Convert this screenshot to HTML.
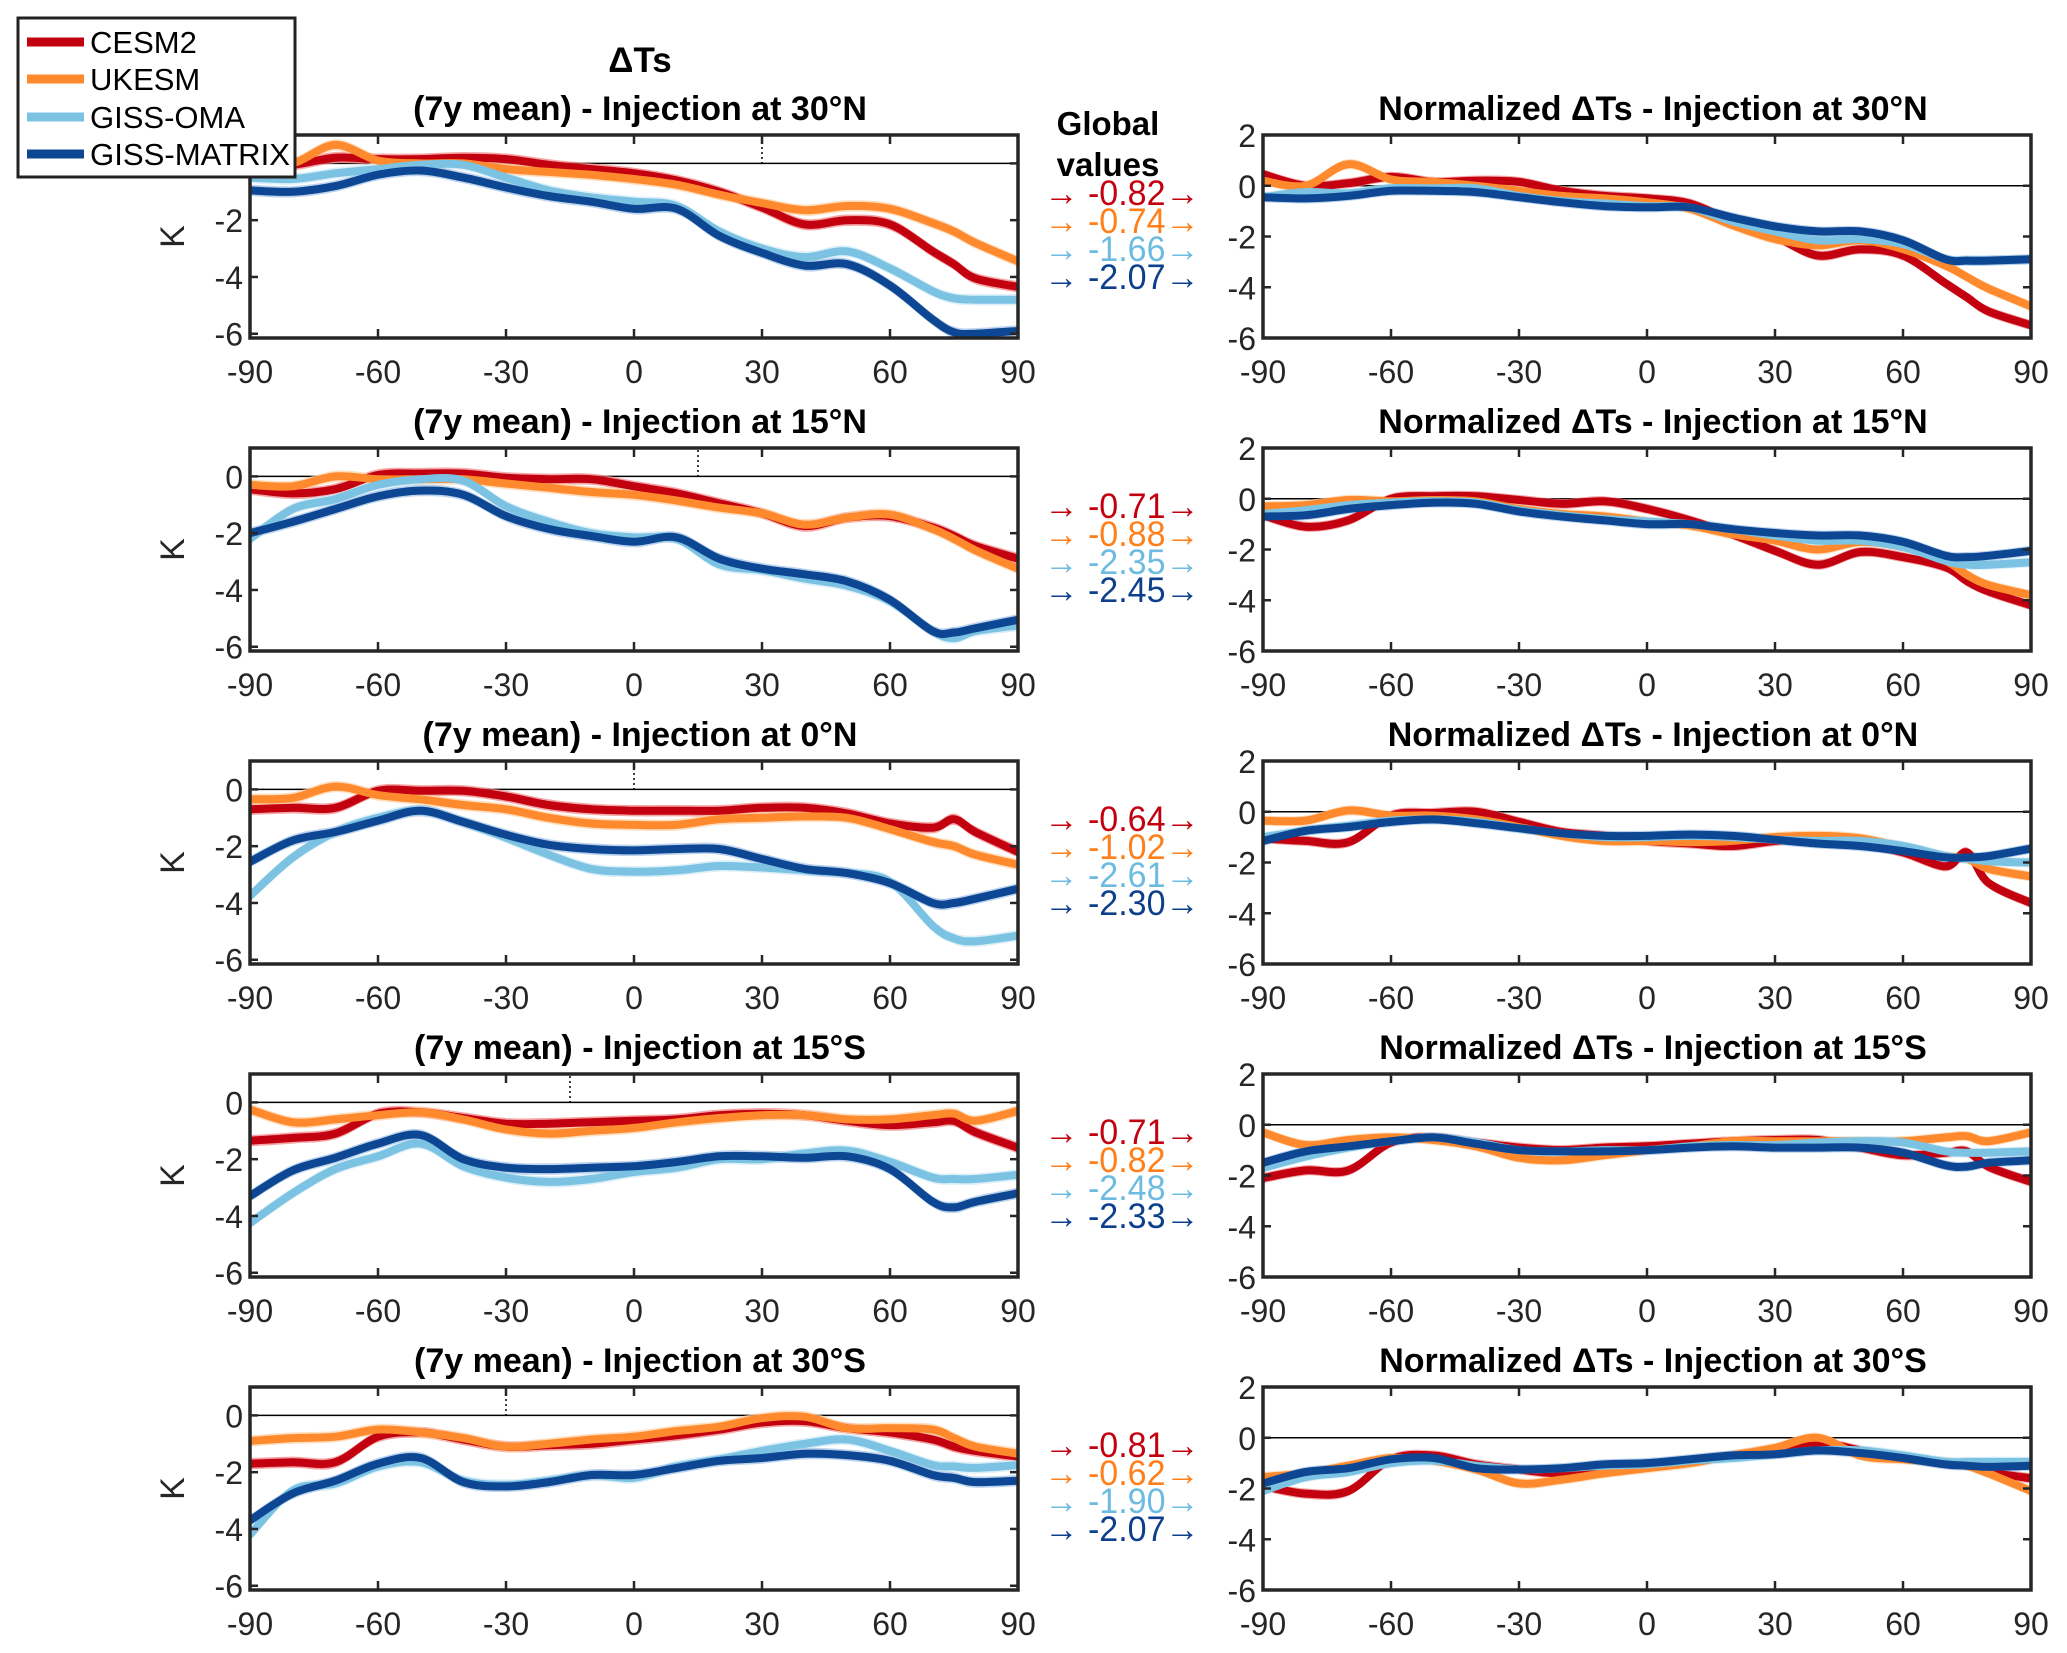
<!DOCTYPE html>
<html><head><meta charset="utf-8"><style>
html,body{margin:0;padding:0;background:#fff;}
svg{display:block;font-family:"Liberation Sans",Arial,sans-serif;}
</style></head><body>
<svg id="fig" width="2067" height="1653" viewBox="0 0 2067 1653" xmlns="http://www.w3.org/2000/svg">
<text x="640" y="72" text-anchor="middle" font-size="35" font-weight="bold">ΔTs</text>
<text x="1108" y="135" text-anchor="middle" font-size="33" font-weight="bold">Global</text>
<text x="1108" y="176" text-anchor="middle" font-size="33" font-weight="bold">values</text>
<g id="plots"></g>
<g>
<rect x="18" y="18" width="277" height="159" fill="#fff" stroke="#222" stroke-width="3"/>
<line x1="27" y1="42" x2="84" y2="42" stroke="#c3000f" stroke-width="9"/>
<text x="90" y="53" font-size="31">CESM2</text>
<line x1="27" y1="79" x2="84" y2="79" stroke="#ff8a2e" stroke-width="9"/>
<text x="90" y="90" font-size="31">UKESM</text>
<line x1="27" y1="117" x2="84" y2="117" stroke="#7cc3e3" stroke-width="9"/>
<text x="90" y="128" font-size="31">GISS-OMA</text>
<line x1="27" y1="154" x2="84" y2="154" stroke="#0d4793" stroke-width="9"/>
<text x="90" y="165" font-size="31" textLength="200" lengthAdjust="spacingAndGlyphs">GISS-MATRIX</text>
</g>
</svg>
<script>
const lat = [-90,-80,-70,-60,-50,-40,-30,-20,-10,0,10,20,30,40,50,60,70,75,80,90];
const xTicks = [-90,-60,-30,0,30,60,90];
const yTicksLeft = [-6,-4,-2,0];
const yTicksRight = [-6,-4,-2,0,2];
const rowTitles = ["Injection at 30°N","Injection at 15°N","Injection at 0°N","Injection at 15°S","Injection at 30°S"];
const injLats = [30,15,0,-15,-30];
const globalCesm = ["-0.82","-0.71","-0.64","-0.71","-0.81"];
const globalUkesm = ["-0.74","-0.88","-1.02","-0.82","-0.62"];
const globalOma = ["-1.66","-2.35","-2.61","-2.48","-1.90"];
const globalMatrix = ["-2.07","-2.45","-2.30","-2.33","-2.07"];

// Row 1: 30N
const r1AbsCesm = [-0.1,-0.05,0.2,0.15,0.15,0.2,0.15,-0.05,-0.2,-0.35,-0.6,-1.0,-1.55,-2.15,-2.0,-2.15,-3.1,-3.55,-4.05,-4.35];
const r1AbsUkesm = [-0.1,0,0.65,0.1,0,0,-0.2,-0.3,-0.4,-0.55,-0.75,-1.1,-1.4,-1.65,-1.5,-1.6,-2.1,-2.4,-2.8,-3.45];
const r1AbsOma = [-0.5,-0.55,-0.35,-0.2,-0.05,-0.05,-0.5,-0.95,-1.2,-1.35,-1.5,-2.4,-3.0,-3.3,-3.1,-3.7,-4.5,-4.75,-4.8,-4.8];
const r1AbsMatrix = [-0.95,-1.0,-0.8,-0.4,-0.25,-0.5,-0.85,-1.15,-1.35,-1.6,-1.6,-2.55,-3.15,-3.6,-3.55,-4.3,-5.5,-5.95,-6.0,-5.9];
const r1NormCesm = [0.45,0,0.1,0.35,0.15,0.2,0.15,-0.2,-0.4,-0.5,-0.7,-1.4,-2.0,-2.75,-2.5,-2.75,-3.85,-4.4,-4.95,-5.5];
const r1NormUkesm = [0.2,0,0.85,0.25,0.15,0,-0.2,-0.4,-0.5,-0.65,-0.9,-1.55,-2.1,-2.35,-2.15,-2.5,-3.15,-3.6,-4.05,-4.75];
const r1NormOma = [-0.45,-0.25,-0.3,-0.1,-0.1,-0.1,-0.4,-0.6,-0.7,-0.8,-0.85,-1.4,-1.8,-2.15,-2.1,-2.3,-2.9,-2.95,-2.95,-2.9];
const r1NormMatrix = [-0.45,-0.5,-0.4,-0.2,-0.2,-0.25,-0.45,-0.65,-0.8,-0.85,-0.85,-1.25,-1.6,-1.8,-1.8,-2.15,-2.9,-2.95,-2.95,-2.9];
// Row 2: 15N
const r2AbsCesm = [-0.45,-0.6,-0.45,0.05,0.1,0.1,-0.05,-0.1,-0.1,-0.35,-0.6,-0.95,-1.3,-1.75,-1.45,-1.4,-1.8,-2.1,-2.45,-2.9];
const r2AbsUkesm = [-0.3,-0.35,0,-0.1,-0.1,-0.1,-0.25,-0.4,-0.55,-0.65,-0.85,-1.1,-1.3,-1.7,-1.45,-1.35,-1.85,-2.2,-2.6,-3.25];
const r2AbsOma = [-2.2,-1.15,-0.8,-0.3,-0.1,-0.15,-1.05,-1.6,-2.0,-2.15,-2.2,-3.1,-3.3,-3.6,-3.85,-4.4,-5.45,-5.7,-5.45,-5.25];
const r2AbsMatrix = [-2.0,-1.6,-1.15,-0.7,-0.5,-0.65,-1.4,-1.85,-2.1,-2.3,-2.15,-2.9,-3.25,-3.45,-3.7,-4.35,-5.45,-5.5,-5.35,-5.05];
const r2NormCesm = [-0.65,-1.1,-0.85,0,0.1,0.1,-0.05,-0.2,-0.1,-0.4,-0.85,-1.4,-2.05,-2.6,-2.1,-2.3,-2.7,-3.25,-3.65,-4.2];
const r2NormUkesm = [-0.3,-0.25,-0.05,-0.1,-0.05,-0.1,-0.4,-0.6,-0.7,-0.9,-1.05,-1.4,-1.65,-2.0,-1.7,-1.9,-2.45,-3.0,-3.4,-3.8];
const r2NormOma = [-0.6,-0.45,-0.25,-0.15,-0.1,-0.15,-0.45,-0.65,-0.8,-0.9,-1.0,-1.2,-1.45,-1.65,-1.65,-1.9,-2.45,-2.6,-2.6,-2.5];
const r2NormMatrix = [-0.7,-0.65,-0.4,-0.25,-0.15,-0.2,-0.5,-0.7,-0.85,-1.0,-1.0,-1.2,-1.35,-1.45,-1.45,-1.7,-2.25,-2.3,-2.25,-2.05];
// Row 3: 0N
const r3AbsCesm = [-0.7,-0.65,-0.65,-0.05,-0.05,-0.05,-0.25,-0.55,-0.7,-0.75,-0.75,-0.75,-0.65,-0.65,-0.85,-1.2,-1.35,-1.05,-1.5,-2.2];
const r3AbsUkesm = [-0.35,-0.3,0.1,-0.2,-0.35,-0.55,-0.7,-1.0,-1.2,-1.25,-1.25,-1.05,-1.0,-0.95,-1.0,-1.4,-1.85,-2.0,-2.3,-2.65];
const r3AbsOma = [-3.75,-2.4,-1.5,-1.0,-0.75,-1.15,-1.7,-2.3,-2.8,-2.9,-2.85,-2.7,-2.75,-2.85,-2.95,-3.25,-4.8,-5.25,-5.35,-5.15];
const r3AbsMatrix = [-2.55,-1.8,-1.5,-1.1,-0.75,-1.15,-1.6,-1.95,-2.1,-2.15,-2.1,-2.1,-2.45,-2.8,-2.95,-3.3,-4.0,-4.0,-3.85,-3.5];
const r3NormCesm = [-1.05,-1.15,-1.2,-0.15,-0.05,0,-0.4,-0.8,-0.95,-1.15,-1.25,-1.35,-1.15,-1.05,-1.25,-1.6,-2.15,-1.6,-2.8,-3.6];
const r3NormUkesm = [-0.35,-0.35,0.05,-0.15,-0.15,-0.3,-0.6,-0.95,-1.15,-1.15,-1.2,-1.15,-1.0,-0.95,-1.05,-1.4,-1.75,-1.85,-2.25,-2.55];
const r3NormOma = [-1.0,-0.75,-0.55,-0.35,-0.3,-0.4,-0.65,-0.85,-1.0,-1.0,-0.95,-1.0,-1.1,-1.15,-1.15,-1.35,-1.75,-1.85,-1.95,-2.0];
const r3NormMatrix = [-1.15,-0.75,-0.6,-0.4,-0.3,-0.45,-0.65,-0.85,-0.95,-0.95,-0.9,-0.95,-1.1,-1.25,-1.35,-1.55,-1.8,-1.8,-1.75,-1.45];
// Row 4: 15S
const r4AbsCesm = [-1.35,-1.25,-1.1,-0.4,-0.35,-0.55,-0.75,-0.75,-0.7,-0.65,-0.6,-0.45,-0.4,-0.45,-0.65,-0.8,-0.7,-0.65,-1.05,-1.6];
const r4AbsUkesm = [-0.25,-0.7,-0.6,-0.45,-0.35,-0.6,-0.95,-1.1,-1.0,-0.9,-0.7,-0.55,-0.45,-0.45,-0.6,-0.6,-0.45,-0.4,-0.65,-0.3];
const r4AbsOma = [-4.25,-3.2,-2.35,-1.9,-1.45,-2.25,-2.65,-2.8,-2.7,-2.45,-2.3,-2.0,-2.0,-1.8,-1.7,-2.1,-2.65,-2.7,-2.7,-2.55];
const r4AbsMatrix = [-3.3,-2.4,-1.95,-1.45,-1.15,-2.0,-2.3,-2.35,-2.3,-2.25,-2.1,-1.9,-1.9,-1.95,-1.9,-2.35,-3.5,-3.7,-3.5,-3.2];
const r4NormCesm = [-2.1,-1.8,-1.8,-0.7,-0.5,-0.7,-0.9,-1.0,-0.9,-0.85,-0.75,-0.65,-0.6,-0.6,-0.9,-1.2,-1.1,-1.05,-1.65,-2.25];
const r4NormUkesm = [-0.3,-0.8,-0.6,-0.5,-0.6,-0.85,-1.3,-1.4,-1.2,-1.0,-0.85,-0.65,-0.65,-0.65,-0.65,-0.65,-0.5,-0.45,-0.65,-0.3];
const r4NormOma = [-1.7,-1.25,-0.9,-0.65,-0.5,-0.7,-1.0,-1.05,-1.0,-1.0,-0.85,-0.8,-0.8,-0.7,-0.65,-0.7,-1.05,-1.1,-1.1,-1.05];
const r4NormMatrix = [-1.5,-1.05,-0.85,-0.65,-0.5,-0.75,-1.0,-1.05,-1.05,-1.0,-0.9,-0.85,-0.9,-0.9,-0.9,-1.1,-1.6,-1.65,-1.5,-1.4];
// Row 5: 30S
const r5AbsCesm = [-1.7,-1.65,-1.65,-0.75,-0.6,-0.85,-1.1,-1.05,-1.0,-0.85,-0.7,-0.5,-0.25,-0.2,-0.45,-0.6,-0.85,-1.1,-1.25,-1.45];
const r5AbsUkesm = [-0.9,-0.8,-0.75,-0.5,-0.6,-0.8,-1.1,-1.0,-0.85,-0.75,-0.55,-0.4,-0.1,-0.05,-0.45,-0.45,-0.5,-0.8,-1.1,-1.35];
const r5AbsOma = [-4.2,-2.65,-2.4,-1.8,-1.65,-2.3,-2.45,-2.3,-2.1,-2.2,-1.8,-1.55,-1.25,-1.0,-0.85,-1.25,-1.75,-1.8,-1.85,-1.75];
const r5AbsMatrix = [-3.7,-2.75,-2.3,-1.7,-1.5,-2.35,-2.5,-2.35,-2.1,-2.1,-1.85,-1.6,-1.5,-1.35,-1.4,-1.6,-2.1,-2.2,-2.35,-2.3];
const r5NormCesm = [-1.9,-2.2,-2.1,-0.85,-0.7,-1.05,-1.25,-1.4,-1.2,-1.05,-0.9,-0.7,-0.45,-0.2,-0.5,-0.8,-1.0,-1.05,-1.35,-1.6];
const r5NormUkesm = [-1.55,-1.4,-1.1,-0.8,-0.9,-1.25,-1.8,-1.65,-1.4,-1.2,-1.0,-0.7,-0.4,0,-0.7,-0.85,-0.95,-1.1,-1.4,-2.1];
const r5NormOma = [-2.1,-1.55,-1.35,-1.0,-0.9,-1.1,-1.25,-1.2,-1.1,-1.05,-0.9,-0.8,-0.65,-0.5,-0.5,-0.7,-0.95,-0.95,-0.95,-0.95];
const r5NormMatrix = [-1.8,-1.35,-1.2,-0.85,-0.8,-1.2,-1.25,-1.2,-1.05,-1.0,-0.85,-0.7,-0.65,-0.5,-0.6,-0.8,-1.05,-1.1,-1.15,-1.1];

const absRows = [[r1AbsCesm,r1AbsUkesm,r1AbsOma,r1AbsMatrix],[r2AbsCesm,r2AbsUkesm,r2AbsOma,r2AbsMatrix],[r3AbsCesm,r3AbsUkesm,r3AbsOma,r3AbsMatrix],[r4AbsCesm,r4AbsUkesm,r4AbsOma,r4AbsMatrix],[r5AbsCesm,r5AbsUkesm,r5AbsOma,r5AbsMatrix]];
const normRows = [[r1NormCesm,r1NormUkesm,r1NormOma,r1NormMatrix],[r2NormCesm,r2NormUkesm,r2NormOma,r2NormMatrix],[r3NormCesm,r3NormUkesm,r3NormOma,r3NormMatrix],[r4NormCesm,r4NormUkesm,r4NormOma,r4NormMatrix],[r5NormCesm,r5NormUkesm,r5NormOma,r5NormMatrix]];
const globalRows = [globalCesm,globalUkesm,globalOma,globalMatrix];

const NS = "http://www.w3.org/2000/svg";
const colors = ["#c3000f","#ff8a2e","#7cc3e3","#0d4793"];
const bandColors = ["#f08080","#ffd1a6","#cfeaf6","#9fc0e6"];
const textColors = ["#c3000f","#ff7f1a","#6dbbe0","#0d3f8c"];
const seriesNames = ["cesm2","ukesm","giss-oma","giss-matrix"];
const root = document.getElementById("plots");

function el(tag, attrs, parent){
  const e = document.createElementNS(NS, tag);
  for (const k in attrs) e.setAttribute(k, attrs[k]);
  (parent||root).appendChild(e);
  return e;
}
function smoothPath(pts){
  let d = "M" + pts[0][0].toFixed(1) + "," + pts[0][1].toFixed(1);
  for (let i=0;i<pts.length-1;i++){
    const p0 = pts[Math.max(0,i-1)], p1 = pts[i], p2 = pts[i+1], p3 = pts[Math.min(pts.length-1,i+2)];
    const c1x = p1[0]+(p2[0]-p0[0])/6, c1y = p1[1]+(p2[1]-p0[1])/6;
    const c2x = p2[0]-(p3[0]-p1[0])/6, c2y = p2[1]-(p3[1]-p1[1])/6;
    d += " C"+c1x.toFixed(1)+","+c1y.toFixed(1)+" "+c2x.toFixed(1)+","+c2y.toFixed(1)+" "+p2[0].toFixed(1)+","+p2[1].toFixed(1);
  }
  return d;
}

const rowTops = [135,448,761,1074,1387];
const H = 203;
function panel(row, isLeft){
  const x0 = isLeft ? 250 : 1263;
  const W = 768;
  const y0 = rowTops[row];
  const ymin = isLeft ? -6.15 : -6, ymax = isLeft ? 1.0 : 2;
  const xs = v => x0 + (v+90)/180*W;
  const ys = v => y0 + (ymax-v)/(ymax-ymin)*H;
  const tag = (isLeft ? "abs" : "norm") + "-row" + (row+1);
  const g = el("g", {});
  
  
  const clipId = "clip-"+tag;
  const cp = el("clipPath", {id: clipId}, g);
  el("rect", {x:x0, y:y0, width:W, height:H}, cp);

  const title = el("text", {x: x0+W/2+6, y: y0-15, "text-anchor":"middle", "font-size":"34", "font-weight":"bold"}, g);
  title.textContent = (isLeft ? "(7y mean) - " : "Normalized  ΔTs - ") + rowTitles[row];
  
  

  const zl = el("line", {x1:x0, x2:x0+W, y1:ys(0), y2:ys(0), stroke:"#000", "stroke-width":"1.5"}, g);
  
  
  if (isLeft){
    const il = el("line", {x1:xs(injLats[row]), x2:xs(injLats[row]), y1:y0+2, y2:ys(0), stroke:"#000", "stroke-width":"1.5", "stroke-dasharray":"2,3"}, g);
    
    
  }
  const data = isLeft ? absRows[row] : normRows[row];
  const sg = el("g", {"clip-path":"url(#"+clipId+")"}, g);
  data.forEach((vals, si) => {
    const up = lat.map((l,i)=>[xs(l), ys(vals[i]+0.2)]);
    const dn = lat.map((l,i)=>[xs(l), ys(vals[i]-0.2)]).reverse();
    const band = el("path", {d: smoothPath(up) + " L" + smoothPath(dn).slice(1) + " Z", fill: bandColors[si], opacity:"0.7"}, sg);
    
    
  });
  data.forEach((vals, si) => {
    const pts = lat.map((l,i)=>[xs(l), ys(vals[i])]);
    const p = el("path", {d: smoothPath(pts), fill:"none", stroke: colors[si], "stroke-width":"8", "stroke-linejoin":"round", "stroke-linecap":"round"}, sg);
    
    
  });
  const box = el("rect", {x:x0, y:y0, width:W, height:H, fill:"none", stroke:"#262626", "stroke-width":"3.5"}, g);
  
  
  xTicks.forEach(t => {
    el("line", {x1:xs(t), x2:xs(t), y1:y0, y2:y0+9, stroke:"#262626", "stroke-width":"2.5"}, g);
    el("line", {x1:xs(t), x2:xs(t), y1:y0+H, y2:y0+H-9, stroke:"#262626", "stroke-width":"2.5"}, g);
    const tl = el("text", {x:xs(t), y:y0+H+45, "text-anchor":"middle", "font-size":"32", fill:"#262626"}, g);
    tl.textContent = String(t);
    
    
  });
  (isLeft ? yTicksLeft : yTicksRight).forEach(t => {
    el("line", {x1:x0, x2:x0+8, y1:ys(t), y2:ys(t), stroke:"#262626", "stroke-width":"2.5"}, g);
    el("line", {x1:x0+W, x2:x0+W-8, y1:ys(t), y2:ys(t), stroke:"#262626", "stroke-width":"2.5"}, g);
    const yl = el("text", {x:x0-7, y:ys(t)+12, "text-anchor":"end", "font-size":"32", fill:"#262626"}, g);
    yl.textContent = String(t);
    
    
  });
  if (isLeft){
    const k = el("text", {x:0, y:0, transform:"translate(184,"+(y0+H/2)+") rotate(-90)", "text-anchor":"middle", "font-size":"34", fill:"#262626"}, g);
    k.textContent = "K";
    
    
  }
}
for (let r=0;r<5;r++){
  panel(r, true);
  panel(r, false);
  for (let s=0;s<4;s++){
    const t = el("text", {x:1122, y:rowTops[r]+58+s*28+12, "text-anchor":"middle", "font-size":"35", fill:textColors[s], textLength:"155", lengthAdjust:"spacingAndGlyphs"});
    t.textContent = "\u2192 " + globalRows[s][r] + "\u2192";
    
    
  }
}
</script>
</body></html>
